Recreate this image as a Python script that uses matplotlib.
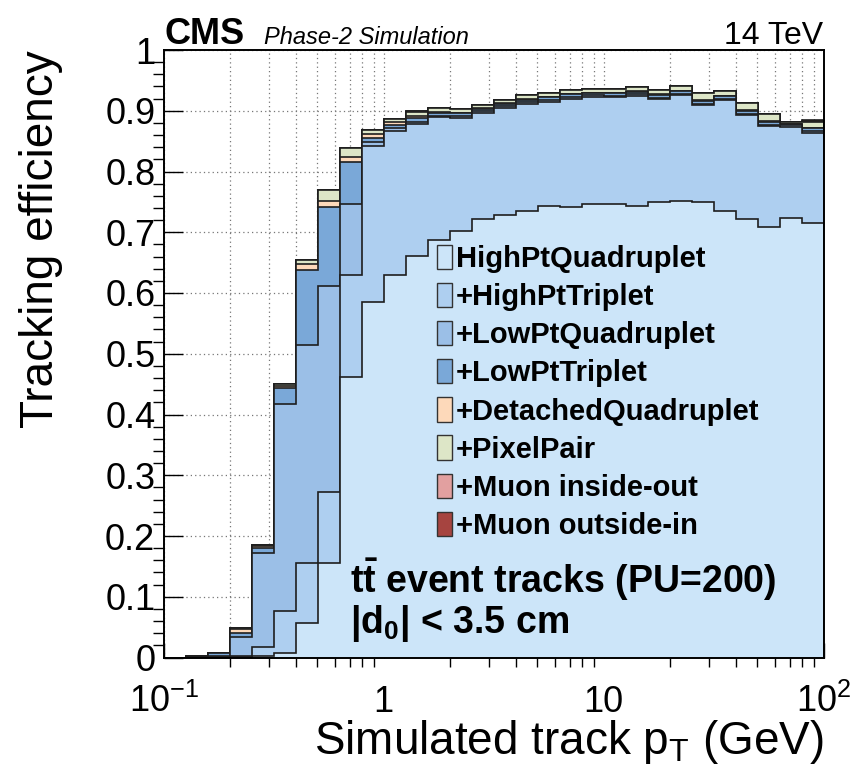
"""
CMS Phase-2 tracking efficiency vs simulated track pT, stacked by iteration.
"""
import matplotlib
matplotlib.use("Agg")
import matplotlib.pyplot as plt
import matplotlib.patches as mpatches
import matplotlib.ticker as mticker
import numpy as np

plt.rcParams.update({
    "font.family": ["Liberation Sans", "DejaVu Sans"],
    "mathtext.fontset": "custom",
    "mathtext.rm": "Liberation Sans",
    "mathtext.it": "Liberation Sans:italic",
    "mathtext.bf": "Liberation Sans:bold",
})

# binning: 10 log bins per decade, 0.1 - 100 GeV
pt_edges = np.logspace(-1, 2, 31)

# cumulative efficiency after each tracking iteration
eff_hpq = [0, 0, 0, 0.001, 0.002, 0.008, 0.056, 0.156, 0.462, 0.585,
           0.630, 0.661, 0.687, 0.702, 0.722, 0.729, 0.735, 0.743, 0.742, 0.746,
           0.747, 0.744, 0.750, 0.752, 0.750, 0.735, 0.722, 0.708, 0.723, 0.715]
eff_hpt = [0, 0, 0.001, 0.002, 0.018, 0.077, 0.156, 0.273, 0.630, 0.842,
           0.867, 0.879, 0.889, 0.888, 0.896, 0.904, 0.911, 0.915, 0.920, 0.923,
           0.922, 0.925, 0.919, 0.926, 0.909, 0.918, 0.893, 0.875, 0.874, 0.864]
eff_lpq = [0, 0, 0.003, 0.033, 0.172, 0.418, 0.514, 0.612, 0.746, 0.848,
           0.871, 0.882, 0.892, 0.891, 0.899, 0.907, 0.914, 0.918, 0.923, 0.926,
           0.924, 0.927, 0.921, 0.928, 0.911, 0.920, 0.895, 0.877, 0.876, 0.866]
eff_lpt = [0, 0.001, 0.007, 0.041, 0.180, 0.443, 0.638, 0.741, 0.815, 0.855,
           0.876, 0.888, 0.896, 0.896, 0.903, 0.911, 0.918, 0.922, 0.927, 0.929,
           0.929, 0.931, 0.926, 0.932, 0.916, 0.924, 0.900, 0.882, 0.878, 0.871]
eff_det = [0, 0.001, 0.007, 0.047, 0.183, 0.447, 0.648, 0.751, 0.824, 0.861,
           0.882, 0.891, 0.898, 0.897, 0.904, 0.912, 0.919, 0.923, 0.928, 0.930,
           0.930, 0.932, 0.927, 0.933, 0.917, 0.925, 0.901, 0.883, 0.879, 0.872]
eff_pp = [0, 0.002, 0.008, 0.048, 0.186, 0.450, 0.655, 0.769, 0.838, 0.869,
          0.886, 0.898, 0.905, 0.903, 0.910, 0.918, 0.926, 0.929, 0.934, 0.936,
          0.935, 0.939, 0.934, 0.941, 0.929, 0.933, 0.912, 0.894, 0.881, 0.882]
eff_muin = [0, 0.002, 0.008, 0.048, 0.186, 0.450, 0.655, 0.769, 0.838, 0.869,
            0.887, 0.900, 0.905, 0.903, 0.910, 0.918, 0.926, 0.929, 0.934, 0.936,
            0.935, 0.939, 0.934, 0.941, 0.929, 0.933, 0.912, 0.894, 0.882, 0.883]
eff_muout = [0, 0.002, 0.008, 0.048, 0.186, 0.450, 0.655, 0.769, 0.838, 0.869,
             0.887, 0.900, 0.905, 0.903, 0.910, 0.918, 0.926, 0.929, 0.934, 0.936,
             0.935, 0.939, 0.934, 0.941, 0.929, 0.933, 0.912, 0.894, 0.882, 0.885]

labels = ["HighPtQuadruplet", "+HighPtTriplet", "+LowPtQuadruplet", "+LowPtTriplet",
          "+DetachedQuadruplet", "+PixelPair", "+Muon inside-out", "+Muon outside-in"]
layers = [eff_hpq, eff_hpt, eff_lpq, eff_lpt, eff_det, eff_pp, eff_muin, eff_muout]
colors = ["#cce5f9", "#aecff0", "#9bbfe7", "#7aa8d8",
          "#fdd9ba", "#dde6c7", "#e2a0a0", "#a64440"]

xtick_vals = [0.1, 1, 10, 100]
xtick_labels = [r"10$^{\mathrm{-1}}$", "1", "10", r"10$^{\mathrm{2}}$"]

W, H = 852, 773
def fx(px): return px / W
def fy(py): return 1 - py / H

fig = plt.figure(figsize=(W / 100, H / 100), dpi=100)
ax = fig.add_axes([fx(163.6), fy(657.5), (823.6 - 163.6) / W, (657.5 - 50) / H])

# stack: draw the outermost cumulative first, inner ones on top
for vals, col in zip(layers[::-1], colors[::-1]):
    ax.stairs(vals, pt_edges, baseline=0, fill=True, facecolor=col,
              edgecolor="#1e1e1e", linewidth=1.2, zorder=2)

ax.set_xscale("log")
ax.set_xlim(0.1, 100)
ax.set_ylim(0, 1)

ax.xaxis.set_major_locator(mticker.FixedLocator(xtick_vals))
ax.xaxis.set_minor_locator(mticker.LogLocator(base=10, subs=np.arange(2, 10), numticks=20))
ax.xaxis.set_major_formatter(mticker.NullFormatter())
ax.xaxis.set_minor_formatter(mticker.NullFormatter())
ax.yaxis.set_major_locator(mticker.MultipleLocator(0.1))
ax.yaxis.set_minor_locator(mticker.MultipleLocator(0.02))
ax.yaxis.set_major_formatter(mticker.FuncFormatter(lambda v, p: f"{v:g}"))

ax.tick_params(direction="in", top=False, right=False, labelsize=26)
ax.tick_params(axis="y", which="major", length=14, width=1.0, pad=6)
ax.tick_params(axis="y", which="minor", length=8, width=1.0)
ax.tick_params(axis="x", which="major", length=11, width=1.0)
ax.tick_params(axis="x", which="minor", length=6.5, width=1.0)
for s in ax.spines.values():
    s.set_linewidth(1.4)

ax.set_axisbelow(True)
ax.grid(True, axis="x", which="both", linestyle=(0, (1, 2.5)), color="#777777", linewidth=0.9)
ax.grid(True, axis="y", which="major", linestyle=(0, (1, 2.5)), color="#777777", linewidth=0.9)

for v, lab in zip(xtick_vals, xtick_labels):
    ax.text(v, -0.09, lab, transform=ax.get_xaxis_transform(),
            ha="center", va="baseline", fontsize=26)

ax.set_ylabel("Tracking efficiency", fontsize=33, loc="top")
ax.yaxis.set_label_coords(-0.152, 1.0)
ax.set_xlabel(r"Simulated track p$_{\mathrm{T}}$ (GeV)", fontsize=33, loc="right")
ax.xaxis.set_label_coords(1.0, -0.10)

handles = [mpatches.Patch(facecolor=c, edgecolor="#333333", linewidth=1.0, label=l)
           for c, l in zip(colors, labels)]
ax.legend(handles=handles, loc="upper left", bbox_to_anchor=(fx(437), fy(245)),
          bbox_transform=fig.transFigure, frameon=False, borderpad=0, borderaxespad=0,
          handlelength=0.52, handleheight=0.9, handletextpad=0.12, labelspacing=0.34,
          prop={"weight": "bold", "size": 21})

# header and annotation texts
fig.text(fx(164), fy(44), "CMS", fontsize=26, fontweight="bold", va="baseline")
fig.text(fx(264), fy(44), "Phase-2 Simulation", fontsize=17, fontstyle="italic", va="baseline")
fig.text(fx(823), fy(44), "14 TeV", fontsize=23, ha="right", va="baseline")
fig.text(fx(350), fy(593), r"$\mathbf{t\bar{t}}$ event tracks (PU=200)",
         fontsize=27, fontweight="bold", va="baseline")
fig.text(fx(350), fy(633), r"|d$_{\mathbf{0}}$| < 3.5 cm",
         fontsize=27, fontweight="bold", va="baseline")

fig.savefig("out.png", dpi=100)
